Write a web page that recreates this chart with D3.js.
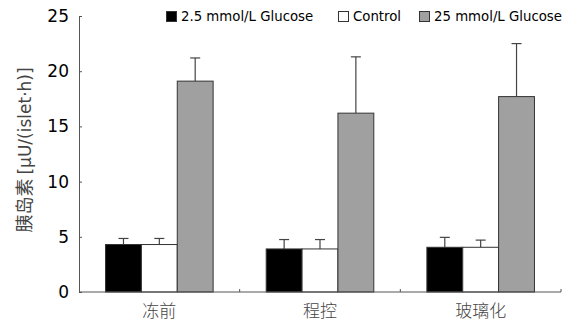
<!DOCTYPE html>
<html><head><meta charset="utf-8">
<script src="https://cdn.jsdelivr.net/npm/d3@7/dist/d3.min.js"></script>
<style>body{margin:0;background:#fff}svg{display:block}</style>
</head><body><svg id="c" width="573" height="325"></svg>
<script>
const categories = ["冻前", "程控", "玻璃化"];
const seriesNames = ["2.5 mmol/L Glucose", "Control", "25 mmol/L Glucose"];
const lowValues = [4.3, 3.9, 4.05];
const lowErrors = [0.55, 0.85, 0.9];
const controlValues = [4.3, 3.9, 4.05];
const controlErrors = [0.55, 0.85, 0.65];
const highValues = [19.1, 16.2, 17.7];
const highErrors = [2.1, 5.1, 4.8];
const yTicks = [0, 5, 10, 15, 20, 25];
const colors = ["#000000", "#ffffff", "#a0a0a0"];

const series = [
  {name: seriesNames[0], values: lowValues, errors: lowErrors, color: colors[0]},
  {name: seriesNames[1], values: controlValues, errors: controlErrors, color: colors[1]},
  {name: seriesNames[2], values: highValues, errors: highErrors, color: colors[2]}
];

const svg = d3.select("#c");
const font = "Tahoma, 'DejaVu Sans', Verdana, sans-serif";
const cjk = "'Noto Sans CJK SC', sans-serif";
const m = {l: 79, r: 12, t: 16, b: 33};
const W = 573, H = 325;
const x0 = d3.scaleBand().domain(categories).range([m.l, W - m.r]).padding(0);
const x1 = d3.scaleBand().domain(d3.range(3)).range([0, x0.bandwidth()]).paddingInner(0).paddingOuter(0.74);
const y = d3.scaleLinear().domain([0, 25]).range([H - m.b, m.t]);

// bars
series.forEach((s, si) => {
  const g = svg.append("g");
  categories.forEach((c, ci) => {
    const bx = x0(c) + x1(si);
    const bw = x1.bandwidth();
    const cx = bx + bw / 2;
    g.append("line").attr("x1", cx).attr("x2", cx)
      .attr("y1", y(s.values[ci])).attr("y2", y(s.values[ci] + s.errors[ci]))
      .attr("stroke", "#444").attr("stroke-width", 1.2);
    g.append("line").attr("x1", cx - 5).attr("x2", cx + 5)
      .attr("y1", y(s.values[ci] + s.errors[ci])).attr("y2", y(s.values[ci] + s.errors[ci]))
      .attr("stroke", "#444").attr("stroke-width", 1.2);
    g.append("rect").attr("x", bx).attr("width", bw)
      .attr("y", y(s.values[ci])).attr("height", y(0) - y(s.values[ci]))
      .attr("fill", s.color).attr("stroke", "#333").attr("stroke-width", 1);
  });
});

// y axis
const ya = svg.append("g").attr("transform", `translate(${m.l},0)`)
  .call(d3.axisLeft(y).tickValues(yTicks).tickSize(-3).tickPadding(10).tickSizeOuter(0));
ya.select(".domain").attr("stroke", "#555");
ya.selectAll(".tick line").attr("stroke", "#555");
ya.selectAll("text").attr("font-family", font).attr("font-size", 17).attr("fill", "#000");

// x axis
const xa = svg.append("g").attr("transform", `translate(0,${y(0)})`);
xa.append("line").attr("x1", m.l).attr("x2", W - m.r).attr("stroke", "#555");
categories.forEach((c, ci) => {
  if (ci > 0) xa.append("line").attr("x1", x0(c)).attr("x2", x0(c)).attr("y1", 0).attr("y2", -3).attr("stroke", "#555");
  xa.append("text").attr("x", x0(c) + x0.bandwidth() / 2).attr("y", 25)
    .attr("text-anchor", "middle").attr("font-family", cjk)
    .attr("font-size", 17).attr("font-weight", 300).attr("fill", "#444").text(c);
});
xa.append("line").attr("x1", W - m.r).attr("x2", W - m.r).attr("y1", 0).attr("y2", -3).attr("stroke", "#555");

// y title
const yt = svg.append("text").attr("transform", "translate(31,150) rotate(-90)")
  .attr("text-anchor", "middle").attr("fill", "#444");
yt.append("tspan").attr("font-family", cjk).attr("font-size", 18).text("胰岛素 ");
yt.append("tspan").attr("font-family", font).attr("font-size", 17).text("[μU/(islet·h)]");

// legend
const legX = [166, 338, 419];
const leg = svg.append("g");
series.forEach((s, si) => {
  leg.append("rect").attr("x", legX[si] + 0.5).attr("y", 11.5).attr("width", 10).attr("height", 10)
    .attr("fill", s.color).attr("stroke", "#333");
  leg.append("text").attr("x", legX[si] + 15).attr("y", 21)
    .attr("font-family", font).attr("font-size", 13.3).attr("fill", "#000").text(s.name);
});
</script></body></html>
